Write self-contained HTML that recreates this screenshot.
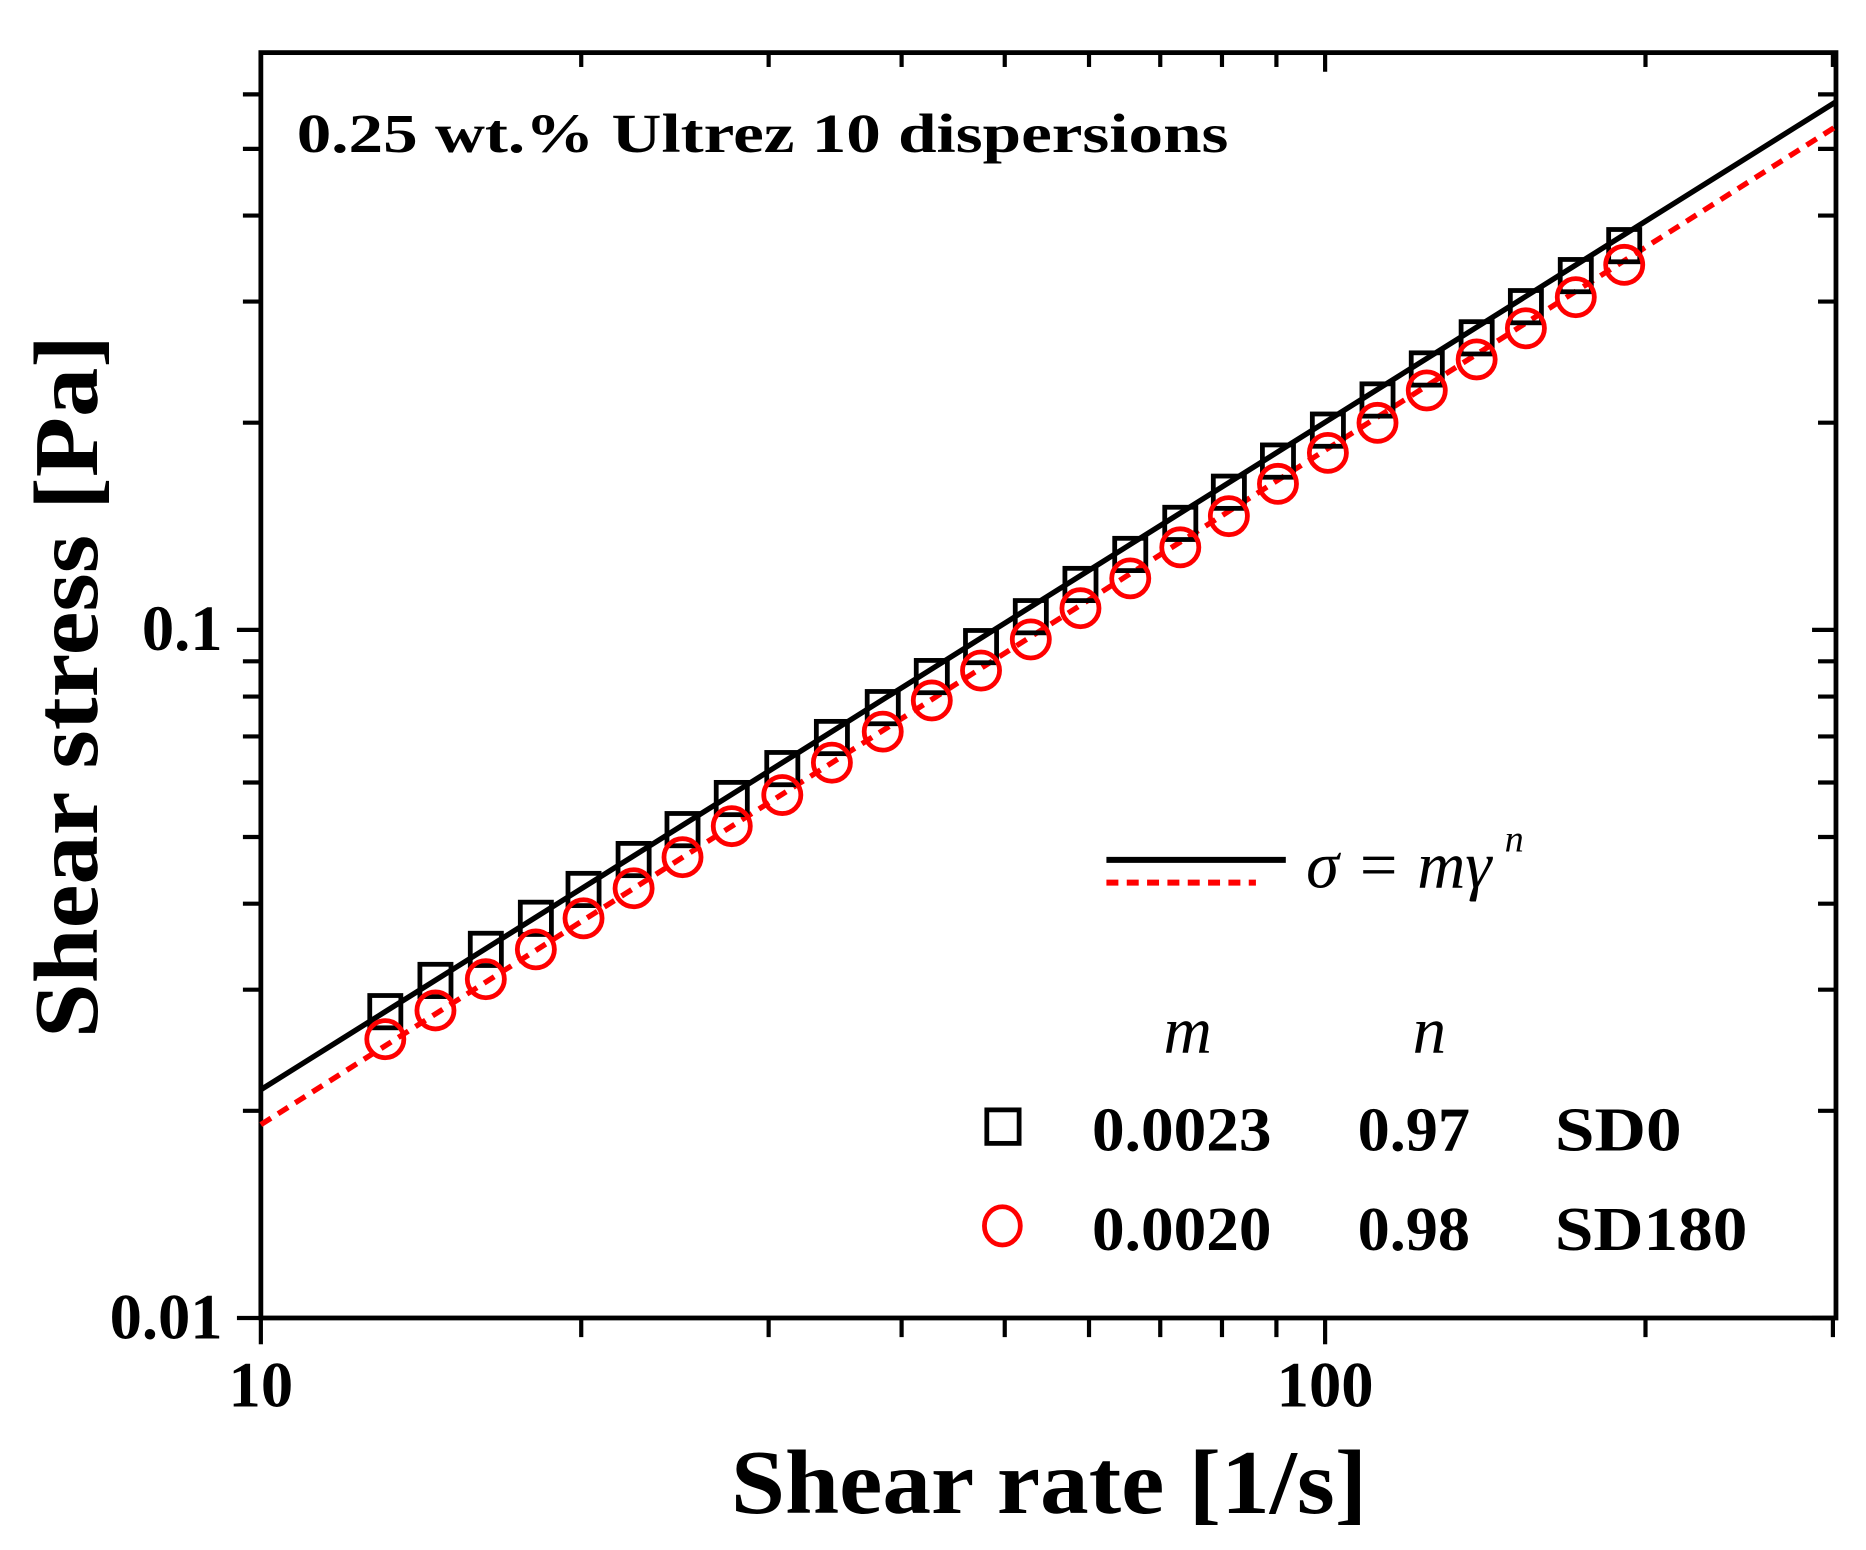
<!DOCTYPE html>
<html><head><meta charset="utf-8"><style>
html,body{margin:0;padding:0;background:#fff;}
svg{display:block;}
text{font-family:"Liberation Serif",serif;}
</style></head><body>
<svg id="chart" width="1866" height="1550" viewBox="0 0 1560 1296" xmlns="http://www.w3.org/2000/svg">
<rect width="1560" height="1296" fill="#fff"/>
<g id="grid"></g>
<g id="marks"></g>
<text x="248" y="127" font-size="46" font-weight="bold" textLength="779" lengthAdjust="spacingAndGlyphs">0.25 wt.% Ultrez 10 dispersions</text>
<text x="877" y="1265" font-size="76" font-weight="bold" text-anchor="middle" textLength="532" lengthAdjust="spacingAndGlyphs">Shear rate [1/s]</text>
<text transform="translate(81,574) rotate(-90)" font-size="76" font-weight="bold" text-anchor="middle" textLength="588" lengthAdjust="spacingAndGlyphs">Shear stress [Pa]</text>
<g>
<line x1="925" y1="719" x2="1075" y2="719" stroke="#000" stroke-width="5"/>
<line x1="925" y1="738" x2="1050" y2="738" stroke="#f00" stroke-width="5" stroke-dasharray="10,7"/>
<text x="1092" y="742" font-size="56" font-style="italic" textLength="155" lengthAdjust="spacingAndGlyphs">σ = mγ</text>
<text x="1258" y="712" font-size="32" font-style="italic">n</text>
<text x="993" y="880" font-size="56" font-style="italic" text-anchor="middle">m</text>
<text x="1195" y="880" font-size="56" font-style="italic" text-anchor="middle">n</text>
<rect x="825" y="928" width="27" height="28" fill="none" stroke="#000" stroke-width="4"/>
<text x="913" y="962" font-size="52" font-weight="bold" textLength="150" lengthAdjust="spacingAndGlyphs">0.0023</text>
<text x="1135" y="962" font-size="52" font-weight="bold" textLength="94" lengthAdjust="spacingAndGlyphs">0.97</text>
<text x="1300" y="962" font-size="52" font-weight="bold" textLength="106" lengthAdjust="spacingAndGlyphs">SD0</text>
<ellipse cx="838" cy="1025" rx="15" ry="16" fill="none" stroke="#f00" stroke-width="4"/>
<text x="913" y="1045" font-size="52" font-weight="bold" textLength="150" lengthAdjust="spacingAndGlyphs">0.0020</text>
<text x="1135" y="1045" font-size="52" font-weight="bold" textLength="94" lengthAdjust="spacingAndGlyphs">0.98</text>
<text x="1300" y="1045" font-size="52" font-weight="bold" textLength="161" lengthAdjust="spacingAndGlyphs">SD180</text>
</g>
</svg>
<script>
const shearRate = [13.09,14.59,16.27,18.13,20.1,22.4,24.9,27.7,30.9,34.4,38.4,42.7,47.5,52.9,58.9,65.6,73.1,81.2,90.3,100.6,112,124.6,138.8,154.4,172,191];
const stressSD0 = [0.02787,0.03094,0.03433,0.03809,0.04195,0.04637,0.05125,0.05687,0.06286,0.06975,0.07709,0.08553,0.09455,0.1045,0.1164,0.1287,0.1428,0.1585,0.1759,0.1951,0.2158,0.2394,0.2657,0.2949,0.3272,0.3617];
const stressSD180 = [0.02542,0.02799,0.03107,0.03433,0.03809,0.04212,0.04673,0.05185,0.05754,0.06412,0.07114,0.07895,0.08727,0.09685,0.1075,0.1188,0.1318,0.1463,0.1630,0.1808,0.1999,0.2228,0.2472,0.2743,0.3044,0.3392];
const fitM = [0.0023, 0.0020];
const fitN = [0.97, 0.98];
const xTickValues = [10, 100];
const xTickLabels = ["10", "100"];
const yTickValues = [0.01, 0.1];
const yTickLabels = ["0.01", "0.1"];
const xDomain = [10, 302];
const yDomain = [0.01, 0.69];

const L=218,R=1535,T=44,B=1102;
const lx=Math.log10;
function X(v){return L+(lx(v)-lx(xDomain[0]))/(lx(xDomain[1])-lx(xDomain[0]))*(R-L);}
function Y(v){return B-(lx(v)-lx(yDomain[0]))/(lx(yDomain[1])-lx(yDomain[0]))*(B-T);}
const NS="http://www.w3.org/2000/svg";
function mk(tag,attrs,parent){const e=document.createElementNS(NS,tag);for(const k in attrs)e.setAttribute(k,attrs[k]);parent.appendChild(e);return e;}
const grid=document.getElementById('grid'), marks=document.getElementById('marks');

let fr=mk('rect',{x:L,y:T,width:R-L,height:B-T,fill:'none',stroke:'#000','stroke-width':4},grid);



for(let d=10;d<=100;d*=10){for(let k=1;k<=9;k++){const v=d*k;if(v<xDomain[0]||v>xDomain[1]+1)continue;
 const x=X(Math.min(v,xDomain[1]));const major=(k===1);const len=major?22:16;
 let t=mk('line',{x1:x,y1:B,x2:x,y2:B+len,stroke:'#000','stroke-width':3.5},grid);
 
 
 let t2=mk('line',{x1:x,y1:T,x2:x,y2:T+(major?16:12),stroke:'#000','stroke-width':3.5},grid);
 
 }}
xTickValues.forEach((v,i)=>{const t=mk('text',{x:X(v),y:1176,'font-size':54,'font-weight':'bold','text-anchor':'middle'},grid);t.textContent=xTickLabels[i];
 
 });

for(let d=0.01;d<1;d*=10){for(let k=1;k<=9;k++){const v=d*k;if(v>yDomain[1])continue;
 const y=Y(v);const major=(k===1);
 let t=mk('line',{x1:L-(major?20:15),y1:y,x2:L,y2:y,stroke:'#000','stroke-width':3.5},grid);
 
 
 let t2=mk('line',{x1:R-(major?20:15),y1:y,x2:R,y2:y,stroke:'#000','stroke-width':3.5},grid);
 
 }}
yTickValues.forEach((v,i)=>{const t=mk('text',{x:186,y:Y(v)+17,'font-size':54,'font-weight':'bold','text-anchor':'end'},grid);t.textContent=yTickLabels[i];
 
 });

const fitStyles=[{stroke:'#000',dash:null,name:'fit-line-sd0'},{stroke:'#f00',dash:'10,7',name:'fit-line-sd180'}];
fitM.forEach((m,i)=>{const pts=[];for(let s=0;s<=40;s++){const g=xDomain[0]*Math.pow(xDomain[1]/xDomain[0],s/40);pts.push(X(g)+','+Y(m*Math.pow(g,fitN[i])));}
 const a={points:pts.join(' '),fill:'none',stroke:fitStyles[i].stroke,'stroke-width':4.5};if(fitStyles[i].dash)a['stroke-dasharray']=fitStyles[i].dash;
 const p=mk('polyline',a,marks);
 
 });

shearRate.forEach((g,i)=>{const x=X(g),y=Y(stressSD0[i]);
 const r=mk('rect',{x:x-13,y:y-13.5,width:26,height:27,fill:'none',stroke:'#000','stroke-width':4},marks);
 
 });
shearRate.forEach((g,i)=>{const x=X(g),y=Y(stressSD180[i]);
 const c=mk('circle',{cx:x,cy:y,r:15.5,fill:'none',stroke:'#f00','stroke-width':4},marks);
 
 });
</script>
</body></html>
